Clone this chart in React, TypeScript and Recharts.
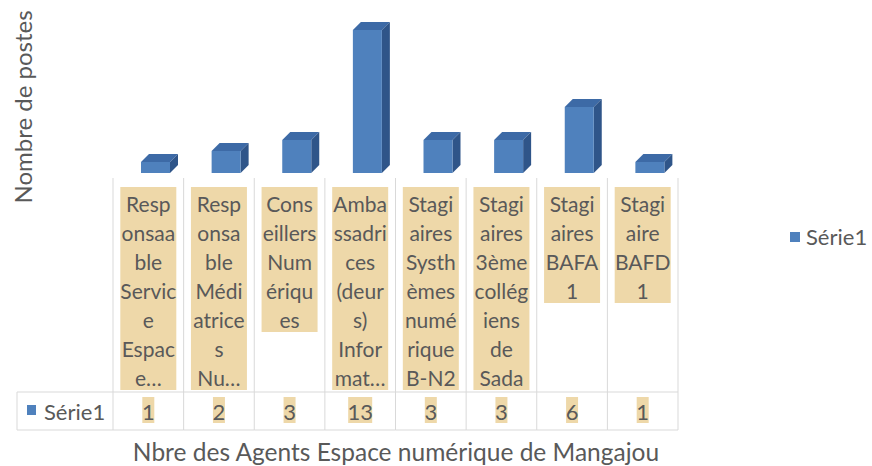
import { BarChart, Bar, XAxis, YAxis } from "recharts";

const categories: string[][] = [
  ["Resp", "onsaa", "ble", "Servic", "e", "Espac", "e…"],
  ["Resp", "onsa", "ble", "Médi", "atrice", "s", "Nu…"],
  ["Cons", "eillers", "Num", "ériqu", "es"],
  ["Amba", "ssadri", "ces", "(deur", "s)", "Infor", "mat…"],
  ["Stagi", "aires", "Systh", "èmes", "numé", "rique", "B-N2"],
  ["Stagi", "aires", "3ème", "collég", "iens", "de", "Sada"],
  ["Stagi", "aires", "BAFA", "1"],
  ["Stagi", "aire", "BAFD", "1"],
];

const values = [1, 2, 3, 13, 3, 3, 6, 1];
const seriesName = "Série1";

const data = categories.map((lines, i) => ({ name: lines.join(" "), lines, value: values[i] }));

const FONT = "Lato, 'Open Sans', sans-serif";
const TEXT = "#595959";
const TAN = "#EED8A9";
const GRID = "#D9D9D9";
const BAR = "#4F81BD";

const W = 872;
const H = 466;
const M = { top: 19, right: 194, left: 113, bottom: 0 };
const BAND = (W - M.left - M.right) / values.length;

function Bar3D(props: any) {
  const { x, y, width, height } = props;
  if (height == null) return null;
  const fx = x + 7;
  const d = 8;
  return (
    <g>
      <polygon
        points={`${fx},${y} ${fx + d},${y - d} ${fx + width + d},${y - d} ${fx + width},${y}`}
        fill="#3D6AA6"
      />
      <polygon
        points={`${fx + width},${y} ${fx + width + d},${y - d} ${fx + width + d},${y + height - d} ${fx + width},${y + height}`}
        fill="#2F5589"
      />
      <rect x={fx} y={y} width={width} height={height} fill={BAR} />
    </g>
  );
}

function CategoryTick(props: any) {
  const { x, y, payload } = props;
  const i = payload.index;
  const lines = categories[i];
  const left = x - BAND / 2;
  const right = x + BAND / 2;
  const rowTop = y + 219;
  const rowBot = y + 257;
  const v = String(values[i]);
  return (
    <g>
      {i === 0 && (
        <g>
          <line x1={left} y1={y + 5} x2={left} y2={rowBot} stroke={GRID} />
          <line x1={17} y1={rowTop} x2={left} y2={rowTop} stroke={GRID} />
          <line x1={17} y1={rowBot} x2={left} y2={rowBot} stroke={GRID} />
          <line x1={17} y1={rowTop} x2={17} y2={rowBot} stroke={GRID} />
          <rect x={27} y={rowTop + 13} width={9} height={10} fill={BAR} />
          <text x={44} y={rowTop + 19} fill={TEXT} fontSize={22} fontFamily={FONT} dominantBaseline="central">
            {seriesName}
          </text>
        </g>
      )}
      <line x1={right} y1={y + 5} x2={right} y2={rowBot} stroke={GRID} />
      <line x1={left} y1={rowTop} x2={right} y2={rowTop} stroke={GRID} />
      <line x1={left} y1={rowBot} x2={right} y2={rowBot} stroke={GRID} />
      <rect x={x - 28} y={y + 14} width={56} height={lines.length * 29} fill={TAN} />
      {lines.map((t, k) => (
        <text
          key={k}
          x={x}
          y={y + 30 + k * 29}
          textAnchor="middle"
          dominantBaseline="central"
          fill={TEXT}
          fontSize={21}
          fontFamily={FONT}
        >
          {t}
        </text>
      ))}
      <rect x={x - v.length * 6} y={rowTop + 5} width={v.length * 12} height={26} fill={TAN} />
      <text x={x} y={rowTop + 19} textAnchor="middle" dominantBaseline="central" fill={TEXT} fontSize={22} fontFamily={FONT}>
        {v}
      </text>
    </g>
  );
}

export default function App() {
  return (
    <div style={{ position: "absolute", left: 0, top: 0, width: W, height: H, background: "#fff", fontFamily: FONT }}>
      <BarChart width={W} height={H} data={data} margin={M} barSize={29}>
        <XAxis
          dataKey="name"
          height={H - M.top - 154}
          axisLine={false}
          tickLine={false}
          tickSize={0}
          tickMargin={0}
          interval={0}
          tick={<CategoryTick />}
        />
        <YAxis hide domain={[0, 14]} />
        <Bar dataKey="value" shape={<Bar3D />} isAnimationActive={false} />
      </BarChart>
      <div
        style={{
          position: "absolute",
          left: 22,
          top: 107,
          transform: "translate(-50%, -50%) rotate(-90deg)",
          whiteSpace: "nowrap",
          fontSize: 24,
          color: TEXT,
        }}
      >
        Nombre de postes
      </div>
      <div
        style={{
          position: "absolute",
          left: 396,
          top: 451,
          transform: "translate(-50%, -50%)",
          whiteSpace: "nowrap",
          fontSize: 24.5,
          color: TEXT,
        }}
      >
        Nbre des Agents Espace numérique de Mangajou
      </div>
      <div style={{ position: "absolute", left: 790, top: 223, display: "flex", alignItems: "center", fontSize: 22, color: TEXT }}>
        <span style={{ width: 10, height: 10, background: BAR, display: "inline-block", marginRight: 6 }} />
        {seriesName}
      </div>
    </div>
  );
}
